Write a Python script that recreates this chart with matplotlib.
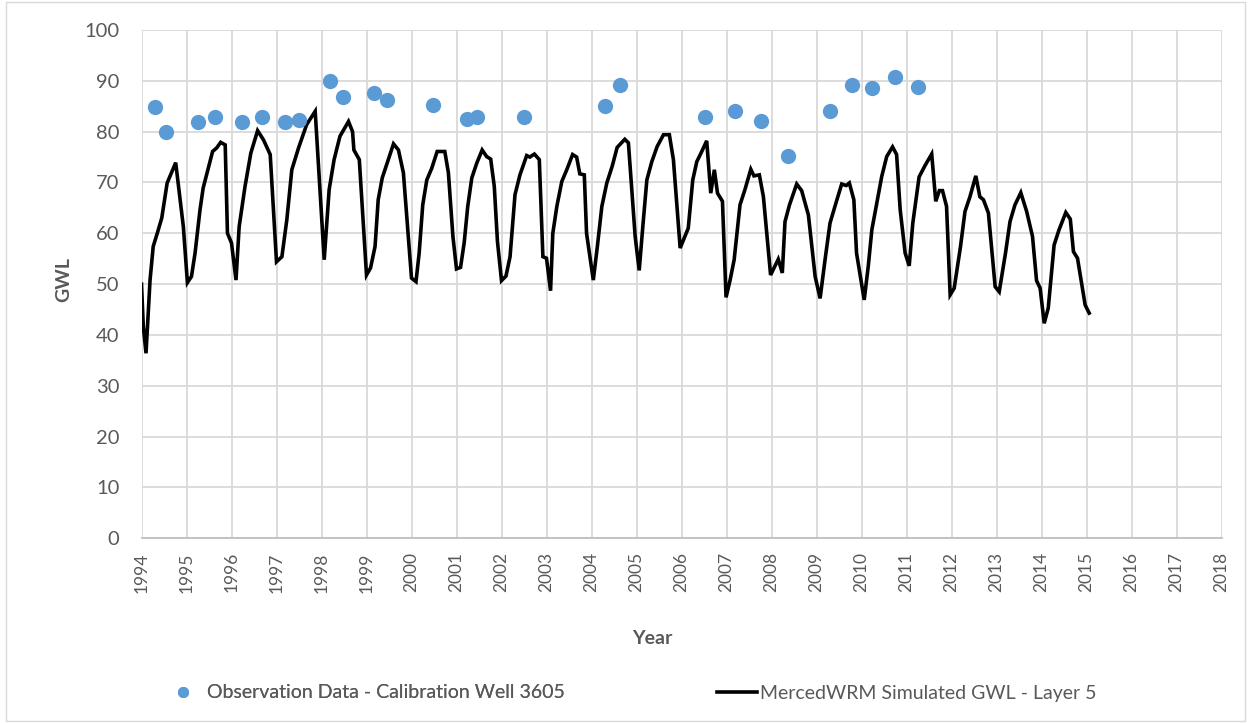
import matplotlib.pyplot as plt
from matplotlib.lines import Line2D
from matplotlib.patches import Rectangle

# Observation data (decimal year, GWL)
obs_year = [1994.30, 1994.54, 1995.26, 1995.63, 1996.23, 1996.68, 1997.19, 1997.50,
            1998.19, 1998.48, 1999.17, 1999.46, 2000.48, 2001.23, 2001.46, 2002.50,
            2004.30, 2004.63, 2006.52, 2007.19, 2007.77, 2008.37, 2009.30, 2009.79,
            2010.24, 2010.74, 2011.26]
obs_gwl = [84.8, 80.0, 81.9, 82.9, 81.9, 82.9, 81.9, 82.3,
           90.0, 86.8, 87.7, 86.3, 85.3, 82.5, 82.9, 82.9,
           85.1, 89.1, 82.9, 84.1, 82.1, 75.3, 84.0, 89.1,
           88.5, 90.7, 88.7]

# Simulated GWL - Layer 5
sim_year = [
    1994.00, 1994.04, 1994.10, 1994.19, 1994.26, 1994.35, 1994.45, 1994.57, 1994.76, 1994.93,
    1995.02, 1995.11, 1995.19, 1995.30, 1995.37, 1995.58, 1995.67, 1995.76, 1995.86, 1995.91,
    1996.00, 1996.10, 1996.17, 1996.30, 1996.43, 1996.58, 1996.71, 1996.86,
    1997.00, 1997.12, 1997.23, 1997.34, 1997.49, 1997.67, 1997.86,
    1998.06, 1998.17, 1998.28, 1998.41, 1998.60, 1998.69, 1998.72, 1998.84,
    1999.00, 1999.09, 1999.19, 1999.26, 1999.35, 1999.60, 1999.71, 1999.82,
    2000.00, 2000.10, 2000.17, 2000.25, 2000.34, 2000.45, 2000.57, 2000.74, 2000.82, 2000.92,
    2001.00, 2001.09, 2001.17, 2001.25, 2001.34, 2001.45, 2001.57, 2001.67, 2001.76, 2001.84, 2001.91,
    2002.00, 2002.10, 2002.19, 2002.30, 2002.41, 2002.56, 2002.63, 2002.73, 2002.84, 2002.92,
    2003.00, 2003.09, 2003.14, 2003.23, 2003.34, 2003.45, 2003.58, 2003.67, 2003.74, 2003.84, 2003.89,
    2004.04, 2004.13, 2004.23, 2004.34, 2004.46, 2004.57, 2004.74, 2004.82, 2004.97,
    2005.06, 2005.14, 2005.23, 2005.34, 2005.46, 2005.60, 2005.73, 2005.82,
    2005.97, 2006.15, 2006.25, 2006.34, 2006.45, 2006.56, 2006.65, 2006.73, 2006.80, 2006.91, 2006.99,
    2007.08, 2007.17, 2007.30, 2007.41, 2007.54, 2007.61, 2007.73, 2007.82, 2007.98,
    2008.15, 2008.24, 2008.30, 2008.40, 2008.56, 2008.67, 2008.82, 2008.97,
    2009.08, 2009.19, 2009.30, 2009.43, 2009.56, 2009.66, 2009.73, 2009.83, 2009.89,
    2010.06, 2010.15, 2010.23, 2010.34, 2010.45, 2010.56, 2010.69, 2010.78, 2010.86, 2010.97,
    2011.06, 2011.14, 2011.28, 2011.41, 2011.56, 2011.65, 2011.73, 2011.80, 2011.89, 2011.97,
    2012.06, 2012.20, 2012.30, 2012.41, 2012.54, 2012.63, 2012.71, 2012.82, 2012.97,
    2013.06, 2013.20, 2013.30, 2013.41, 2013.54, 2013.67, 2013.80, 2013.89, 2013.97,
    2014.06, 2014.15, 2014.28, 2014.39, 2014.54, 2014.64, 2014.71, 2014.80, 2014.97, 2015.06]
sim_gwl = [
    50.0, 41.7, 36.4, 50.8, 57.4, 60.0, 63.0, 69.9, 73.9, 61.3,
    50.3, 51.5, 56.1, 64.6, 68.9, 76.1, 76.8, 77.9, 77.4, 60.0,
    58.1, 50.8, 61.3, 69.2, 75.8, 80.2, 78.4, 75.5,
    54.4, 55.4, 62.7, 72.5, 76.8, 81.4, 84.0,
    54.8, 68.6, 74.5, 79.1, 82.0, 80.0, 76.4, 74.5,
    51.8, 53.2, 57.4, 66.6, 70.9, 77.6, 76.4, 71.9,
    51.2, 50.5, 56.1, 65.6, 70.5, 72.8, 76.1, 76.1, 71.9, 59.4,
    53.0, 53.3, 58.1, 65.3, 70.9, 73.8, 76.4, 75.1, 74.6, 69.2, 58.4,
    50.7, 51.6, 55.4, 67.6, 71.5, 75.3, 75.0, 75.6, 74.5, 55.4,
    55.1, 48.7, 60.0, 65.3, 70.2, 72.5, 75.5, 75.0, 71.7, 71.5, 60.0,
    50.8, 57.4, 65.3, 69.9, 73.2, 76.9, 78.5, 77.8, 59.4,
    52.7, 61.3, 70.5, 74.1, 77.1, 79.4, 79.4, 74.5,
    57.1, 61.0, 70.5, 74.1, 76.1, 78.2, 67.9, 72.5, 67.9, 66.3, 47.4,
    50.8, 54.8, 65.6, 68.6, 72.6, 71.3, 71.5, 67.2, 51.8,
    54.9, 52.2, 62.3, 65.6, 69.7, 68.4, 63.6, 51.5,
    47.2, 54.8, 62.0, 65.9, 69.7, 69.4, 69.9, 66.6, 56.1,
    46.9, 53.5, 60.7, 65.9, 71.2, 75.1, 77.0, 75.5, 64.6, 56.1,
    53.6, 62.0, 71.1, 73.3, 75.6, 66.3, 68.4, 68.4, 65.3, 47.9,
    49.2, 57.4, 64.3, 67.2, 71.3, 67.2, 66.6, 64.0, 49.5,
    48.5, 56.1, 62.3, 65.6, 68.0, 64.3, 59.4, 50.7, 49.2,
    42.3, 45.3, 57.7, 60.7, 64.1, 62.8, 56.4, 55.1, 45.9, 44.3]

year_ticks = list(range(1994, 2019))
gwl_ticks = list(range(0, 101, 10))

plt.rcParams['font.family'] = ['Lato', 'DejaVu Sans']
txt_color = '#595959'
W, H = 1251, 723

fig = plt.figure(figsize=(W / 100, H / 100), dpi=100)
ax = fig.add_axes([141.5 / W, 1 - 538.3 / H, 1080 / W, 508.3 / H])

ax.plot(sim_year, sim_gwl, color='black', lw=2.6, zorder=3, solid_joinstyle='miter')
ax.plot(obs_year, obs_gwl, 'o', color='#5B9BD5', ms=11, mec='none', zorder=4)

ax.set_xlim(1994, 2018)
ax.set_ylim(0, 100)
ax.set_xticks(year_ticks)
ax.set_xticklabels([str(y) for y in year_ticks], rotation=90)
ax.set_yticks(gwl_ticks)
ax.tick_params(axis='x', length=0, pad=10, labelsize=12.5, labelcolor=txt_color)
ax.tick_params(axis='y', length=0, pad=16, labelsize=14.5, labelcolor=txt_color)
ax.grid(True, color='#D9D9D9', lw=1.3)
ax.set_axisbelow(True)
for side in ['top', 'right', 'left']:
    ax.spines[side].set_visible(False)
ax.spines['bottom'].set_color('#BFBFBF')
ax.spines['bottom'].set_linewidth(1.3)

fig.text(64 / W, 1 - 280 / H, 'GWL', rotation=90, ha='center', va='center',
         fontsize=14, fontweight='bold', color=txt_color)
fig.text(652 / W, 1 - 639 / H, 'Year', ha='center', va='center',
         fontsize=14, fontweight='bold', color=txt_color)

# legend (two separate pieces to match spacing)
h1 = Line2D([], [], marker='o', ls='none', color='#5B9BD5', ms=8, mec='none')
h2 = Line2D([], [], color='black', lw=2.6)
leg1 = fig.legend([h1], ['Observation Data - Calibration Well 3605'], loc='center left',
                  bbox_to_anchor=(163 / W, 1 - 693 / H), frameon=False, fontsize=14,
                  handlelength=2.06, handletextpad=0.2, borderpad=0, borderaxespad=0)
leg2 = fig.legend([h2], ['MercedWRM Simulated GWL - Layer 5'], loc='center left',
                  bbox_to_anchor=(717 / W, 1 - 693 / H), frameon=False, fontsize=14,
                  handlelength=2.06, handletextpad=0.15, borderpad=0, borderaxespad=0)
for leg in (leg1, leg2):
    for t in leg.get_texts():
        t.set_color(txt_color)
fig.add_artist(leg1)

fig.patches.append(Rectangle((6 / W, 2 / H), 1 - 12 / W, 1 - 4 / H, transform=fig.transFigure,
                             fill=False, edgecolor='#D9D9D9', lw=1))

fig.savefig('out.png', dpi=100)
